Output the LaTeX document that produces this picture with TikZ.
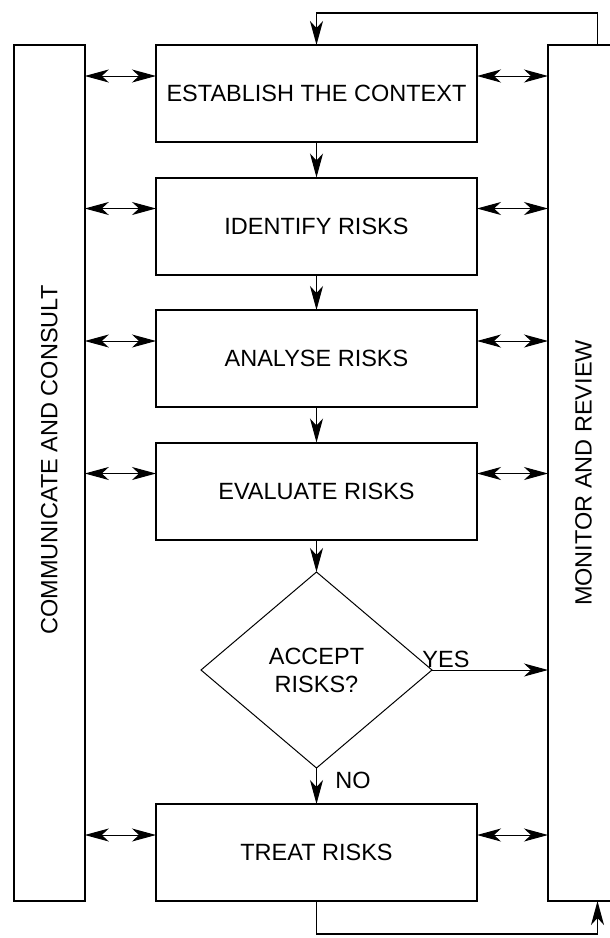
\documentclass[tikz,border=0pt]{standalone}
\usepackage{fontspec}
\setmainfont{Liberation Sans}
\usetikzlibrary{
	positioning,
	shapes.geometric,
	arrows.meta,
	calc
}
\tikzset{
	riskhead/.tip={Stealth[length=24pt,width=13pt,inset=7pt]},
	stage/.style={draw,line width=2pt,rectangle,minimum width=321pt,minimum height=97pt,inner sep=0pt,outer sep=0pt},
	decide/.style={draw,line width=1pt,diamond,aspect=1.18,minimum width=231pt,minimum height=196pt,align=center,inner sep=0pt,outer sep=0pt},
	sidebar/.style={draw,line width=2pt,rectangle,minimum width=71pt,minimum height=856pt,inner sep=0pt,outer sep=0pt},
	flow/.style={line width=1pt,-riskhead},
	both/.style={line width=1pt,riskhead-riskhead},
	feedback/.style={line width=1.5pt,-riskhead}
}

\begin{document}
\begin{tikzpicture}[x=1pt,y=1pt,font=\fontsize{23.5}{28}\selectfont]
	\useasboundingbox (0,0) rectangle (610,-938);
	\draw
		node [sidebar]                    (comm) at (49.3,-473)  {\rotatebox{90}{\hspace*{26pt}COMMUNICATE AND CONSULT}}
		node [sidebar]                    (mon)  at (583.5,-473) {\rotatebox{90}{MONITOR AND REVIEW}}

		node [stage]                      (est)  at (316.5,-93.5) {ESTABLISH THE CONTEXT}
		node [stage,below=35.5pt of est]  (idf)  {IDENTIFY RISKS}
		node [stage,below=35.5pt of idf]  (ana)  {ANALYSE RISKS}
		node [stage,below=35.5pt of ana]  (eva)  {EVALUATE RISKS}
		node [decide,below=32.5pt of eva] (acc)  {ACCEPT\\RISKS?}
		node [stage,below=36pt of acc]    (trt)  {TREAT RISKS}

		(est) edge[flow] (idf)
		(idf) edge[flow] (ana)
		(ana) edge[flow] (eva)
		(eva) edge[flow] (acc)
		(acc) edge[flow] node[pos=0.34,right=15pt] {NO} (trt)
		(acc) edge[flow] node[pos=0.12,above,inner sep=2pt] {YES} (acc -| mon.west)
	;

	% talk to both side bars
	\foreach \s in {est,idf,ana,eva,trt} {
		\draw[both] ($(\s.west)+(0pt,17.5pt)$) -- ($(comm.east |- \s.west)+(0pt,17.5pt)$);
		\draw[both] ($(\s.east)+(0pt,17.5pt)$) -- ($(mon.west |- \s.east)+(0pt,17.5pt)$);
	}

	% review loops
	\draw[feedback] ([xshift=14pt]mon.north) -- ++(0,32) -| (est.north);
	\draw[feedback] (trt.south) -- ++(0,-33) -| ([xshift=14pt]mon.south);
\end{tikzpicture}
\end{document}
